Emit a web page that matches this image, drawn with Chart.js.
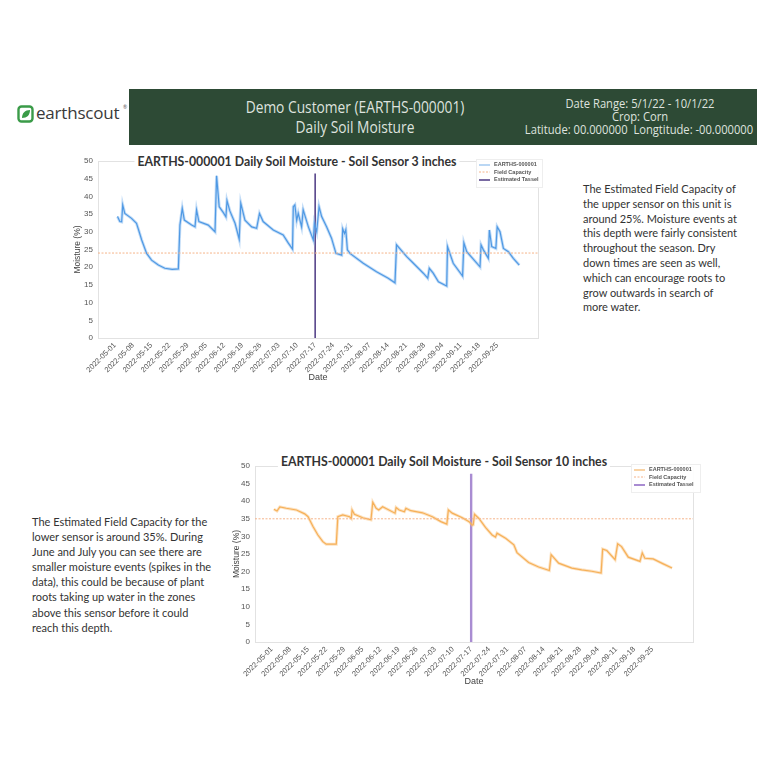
<!DOCTYPE html>
<html><head><meta charset="utf-8">
<script src="https://cdn.jsdelivr.net/npm/chart.js@4.4.0/dist/chart.umd.min.js"></script>
<style>
html,body{margin:0;padding:0;background:#fff;}
body{width:768px;height:768px;position:relative;overflow:hidden;font-family:Lato,"Open Sans",sans-serif;}
.abs{position:absolute;}
#hdr{left:129px;top:89px;width:628px;height:56px;background:#2d4a35;}
.hd{position:absolute;color:#dfe3df;font-family:"Open Sans",sans-serif;white-space:nowrap;text-align:center;line-height:1;}
.ttl{position:absolute;background:#fff;font-family:Lato,"Open Sans",sans-serif;font-weight:bold;color:#333;white-space:nowrap;transform:translate(-50%,-50%);padding:0 3px;}
.para{position:absolute;font-family:Lato,"Open Sans",sans-serif;color:#333;white-space:nowrap;}
.lg{position:absolute;background:rgba(255,255,255,0.92);border:1px solid #eee;font-family:"Liberation Sans",Arial,sans-serif;font-weight:bold;font-size:5.5px;color:#555;}
.lg div{height:7.6px;line-height:7.6px;white-space:nowrap;}
.lg svg{vertical-align:middle;margin:0 4px 0 2px;}
.cbox{position:absolute;}
</style></head>
<body>
<!-- logo -->
<svg class="abs" style="left:17px;top:105px" width="18" height="18" viewBox="0 0 18 18">
  <rect x="1.5" y="1.5" width="14" height="15" rx="3" fill="none" stroke="#3a9b48" stroke-width="2.4"/>
  <path d="M5 13 C5 8 8 5 13 5 C13 10 10 13 5 13 Z" fill="#3a9b48"/>
</svg>
<div class="abs" style="left:36px;top:101px;font-family:'Open Sans',sans-serif;font-size:17px;color:#3a3a3a;letter-spacing:-0.2px">earthscout</div>
<div class="abs" style="left:123px;top:104px;font-size:5px;color:#555">®</div>

<div id="hdr" class="abs"></div>
<div class="hd" style="left:355px;top:99px;font-size:16px;transform:translateX(-50%) scaleX(0.86)">Demo Customer (EARTHS-000001)</div>
<div class="hd" style="left:355px;top:119px;font-size:16px;transform:translateX(-50%) scaleX(0.86)">Daily Soil Moisture</div>
<div class="hd" style="left:640px;top:97px;font-size:13px;transform:translateX(-50%) scaleX(0.86)">Date Range: 5/1/22 - 10/1/22</div>
<div class="hd" style="left:640px;top:110px;font-size:13px;transform:translateX(-50%) scaleX(0.86)">Crop: Corn</div>
<div class="hd" style="left:639px;top:123px;font-size:13px;transform:translateX(-50%) scaleX(0.86)">Latitude: 00.000000&nbsp; Longtitude: -00.000000</div>

<div class="cbox" style="left:66px;top:150px;width:484px;height:240px"><canvas id="c1"></canvas></div>
<div class="cbox" style="left:225px;top:455px;width:480px;height:239px"><canvas id="c2"></canvas></div>

<div class="ttl" style="left:297px;top:161px;font-size:12.3px">EARTHS-000001 Daily Soil Moisture - Soil Sensor 3 inches</div>
<div class="ttl" style="left:444px;top:461px;font-size:12.3px">EARTHS-000001 Daily Soil Moisture - Soil Sensor 10 inches</div>

<div class="lg" style="left:476px;top:159px;width:65px;height:26px;padding-top:1px">
  <div><svg width="11" height="4"><line x1="0" y1="2" x2="11" y2="2" stroke="#a9cdf2" stroke-width="1.6"/></svg>EARTHS-000001</div>
  <div><svg width="11" height="4"><line x1="0" y1="2" x2="11" y2="2" stroke="#f5b48a" stroke-width="1" stroke-dasharray="2,1.5"/></svg>Field Capacity</div>
  <div><svg width="11" height="4"><line x1="0" y1="2" x2="11" y2="2" stroke="#3f2a7a" stroke-width="1.4"/></svg>Estimated Tassel</div>
</div>
<div class="lg" style="left:631px;top:464px;width:68px;height:26px;padding-top:1px">
  <div><svg width="11" height="4"><line x1="0" y1="2" x2="11" y2="2" stroke="#f8c88e" stroke-width="1.6"/></svg>EARTHS-000001</div>
  <div><svg width="11" height="4"><line x1="0" y1="2" x2="11" y2="2" stroke="#f5b48a" stroke-width="1" stroke-dasharray="2,1.5"/></svg>Field Capacity</div>
  <div><svg width="11" height="4"><line x1="0" y1="2" x2="11" y2="2" stroke="#a98cd2" stroke-width="2"/></svg>Estimated Tassel</div>
</div>

<div class="para" style="left:583px;top:182px;font-size:11px;line-height:14.8px">The Estimated Field Capacity of<br>the upper sensor on this unit is<br>around 25%. Moisture events at<br>this depth were fairly consistent<br>throughout the season. Dry<br>down times are seen as well,<br>which can encourage roots to<br>grow outwards in search of<br>more water.</div>
<div class="para" style="left:32px;top:514px;font-size:11px;line-height:15.1px">The Estimated Field Capacity for the<br>lower sensor is around 35%. During<br>June and July you can see there are<br>smaller moisture events (spikes in the<br>data), this could be because of plant<br>roots taking up water in the zones<br>above this sensor before it could<br>reach this depth.</div>

<script>
// ---- data (x = days after 2022-05-01) ----
const tickLabels = ['2022-05-01','2022-05-08','2022-05-15','2022-05-22','2022-05-29','2022-06-05','2022-06-12','2022-06-19','2022-06-26','2022-07-03','2022-07-10','2022-07-17','2022-07-24','2022-07-31','2022-08-07','2022-08-14','2022-08-21','2022-08-28','2022-09-04','2022-09-11','2022-09-18','2022-09-25'];
const yTicks = [0,5,10,15,20,25,30,35,40,45,50];
const xAxisMin = -6.5, xAxisMax = 162.7;

const topDays = [1.0,1.9,2.6,3.0,3.8,6.4,8.3,9.0,10.3,12.2,14.1,16.7,19.2,22.0,24.4,25.0,25.9,26.7,29.5,30.8,31.4,32.3,35.9,38.5,39.1,40.1,41.7,42.7,43.1,44.2,46.2,47.8,48.4,50.0,52.6,54.5,55.6,57.0,60.9,64.7,66.7,68.3,68.6,69.2,69.9,70.5,71.8,72.4,74.4,76.3,76.7,77.6,78.5,79.5,81.4,83.3,85.0,87.2,87.6,88.3,88.8,89.4,90.4,95.5,100.6,105.1,107.7,108.3,112.2,114.1,118.6,120.3,120.9,122.4,124.4,127.6,127.9,130.1,133.7,134.2,135.3,140.4,140.8,141.7,143.6,144.0,144.9,146.5,147.0,148.1,149.4,151.3,153.2,155.5];
const topMoisture = [34.3,32.9,32.8,37.6,35.2,33.8,32.4,30.8,27.7,23.9,22.0,20.6,19.7,19.4,19.5,31.9,36.6,33.3,31.9,31.4,36.2,32.9,31.9,30.0,45.8,37.1,35.4,34.2,38.8,35.9,32.4,27.9,38.1,33.3,31.4,31.0,35.2,32.9,30.5,29.1,26.8,25.1,37.1,37.6,33.2,35.2,31.4,36.2,31.4,27.7,32.4,30.0,37.1,34.3,31.4,28.2,23.9,23.4,30.8,29.5,30.6,24.9,23.9,21.1,18.7,16.9,15.6,26.3,23.0,21.6,18.3,16.9,19.7,18.3,15.9,14.7,25.8,21.1,17.5,26.9,24.4,20.1,26.3,24.9,22.5,30.5,25.8,25.3,31.4,30.0,25.3,24.4,22.5,20.6];

const bottomDays = [0.8,2.0,3.1,5.6,9.5,12.7,14.0,15.9,17.8,19.7,21.0,24.9,25.5,27.4,30.0,30.7,31.0,31.9,35.1,38.3,39.0,40.3,41.3,42.8,47.6,48.0,49.2,51.2,51.8,53.7,58.2,62.0,65.3,67.6,68.2,69.7,73.6,76.2,77.4,77.8,78.3,80.0,82.6,85.1,86.4,87.0,90.3,93.5,94.7,99.2,103.1,107.2,107.9,110.8,115.9,119.7,123.6,127.2,127.8,129.4,132.6,133.6,135.1,137.7,142.2,143.1,144.1,147.3,151.2,154.6];
const bottomMoisture = [37.7,37.2,38.4,38.0,37.5,36.4,35.6,32.8,30.4,28.5,27.8,27.8,35.6,36.1,35.6,35.1,37.5,36.3,35.3,34.7,39.7,38.0,37.5,38.4,36.6,38.2,37.5,37.0,38.0,37.3,36.7,35.6,34.2,33.5,37.5,36.6,35.3,34.2,33.2,33.3,36.3,35.1,32.5,30.4,29.8,30.9,29.5,27.6,25.4,22.6,21.3,20.3,24.8,22.4,21.0,20.5,20.1,19.6,26.4,26.0,23.4,27.9,27.1,24.1,22.9,25.3,23.8,23.6,22.2,21.0];

const fieldCapacityTop = 24;
const fieldCapacityBottom = 35;
const tasselDate = '2022-07-17';
const tasselTopRange = [0, 46.5];
const tasselBottomRange = [0, 47.8];

// ---- helpers ----
const dayOf = s => (Date.parse(s + 'T00:00:00Z') - Date.parse('2022-05-01T00:00:00Z')) / 864e5;
const tickDays = tickLabels.map(dayOf);
const tasselDay = dayOf(tasselDate);

const framePlugin = {
  id: 'frame',
  beforeDatasetsDraw(chart) {
    const a = chart.chartArea, ctx = chart.ctx;
    ctx.save();
    ctx.strokeStyle = '#e2e2e2';
    ctx.lineWidth = 1;
    ctx.strokeRect(Math.round(a.left) + 0.5, Math.round(a.top) + 0.5, Math.round(a.right - a.left), Math.round(a.bottom - a.top));
    ctx.restore();
  }
};

function makeChart(id, days, vals, lineColor, haloColor, fc, tasselRange, tasselColor, tasselWidth, yWidth) {
  const series = days.map((d, i) => ({x: d, y: vals[i]}));
  return new Chart(document.getElementById(id), {
    type: 'line',
    data: {
      datasets: [
        {data: [{x: xAxisMin, y: fc}, {x: xAxisMax, y: fc}], borderColor: '#f5b48a', borderWidth: 1, borderDash: [2, 1.5], pointRadius: 0},
        {data: series, borderColor: haloColor, borderWidth: 3, pointRadius: 0, tension: 0},
        {data: series, borderColor: lineColor, borderWidth: 1.2, pointRadius: 0, tension: 0},
        {data: [{x: tasselDay, y: tasselRange[0]}, {x: tasselDay, y: tasselRange[1]}], borderColor: tasselColor, borderWidth: tasselWidth, pointRadius: 0}
      ]
    },
    options: {
      responsive: true, maintainAspectRatio: false, animation: false,
      layout: {padding: {top: 11, right: 12, left: 0, bottom: 0}},
      plugins: {legend: {display: false}, title: {display: false}, tooltip: {enabled: false}},
      scales: {
        x: {
          type: 'linear', min: xAxisMin, max: xAxisMax,
          grid: {display: false, drawTicks: false},
          border: {display: false},
          afterBuildTicks: s => { s.ticks = tickDays.map(v => ({value: v})); },
          afterFit: s => { s.height = 52; },
          ticks: {
            minRotation: 45, maxRotation: 45, padding: 3, autoSkip: false,
            font: {family: '"Liberation Sans", Arial, sans-serif', size: 7.5}, color: '#555',
            callback: (v) => { const i = tickDays.indexOf(v); return i >= 0 ? tickLabels[i] : ''; }
          },
          title: {display: true, text: 'Date', font: {family: '"Liberation Sans", Arial, sans-serif', size: 9}, color: '#444', padding: {top: 0, bottom: 7}}
        },
        y: {
          min: 0, max: 50,
          grid: {display: false, drawTicks: false},
          border: {display: false},
          afterBuildTicks: s => { s.ticks = yTicks.map(v => ({value: v})); },
          afterFit: s => { s.width = yWidth; },
          ticks: {padding: 5, font: {family: '"Liberation Sans", Arial, sans-serif', size: 8}, color: '#555'},
          title: {display: true, text: 'Moisture (%)', font: {family: '"Liberation Sans", Arial, sans-serif', size: 8.5}, color: '#444', padding: {top: 7, bottom: 0}}
        }
      }
    },
    plugins: [framePlugin]
  });
}

makeChart('c1', topDays, topMoisture, '#2f86dc', 'rgba(120,178,238,0.45)', fieldCapacityTop, tasselTopRange, '#3f2a7a', 1.4, 32);
makeChart('c2', bottomDays, bottomMoisture, '#f4a43e', 'rgba(248,190,120,0.45)', fieldCapacityBottom, tasselBottomRange, '#a98cd2', 2.4, 30);
</script>
</body></html>
